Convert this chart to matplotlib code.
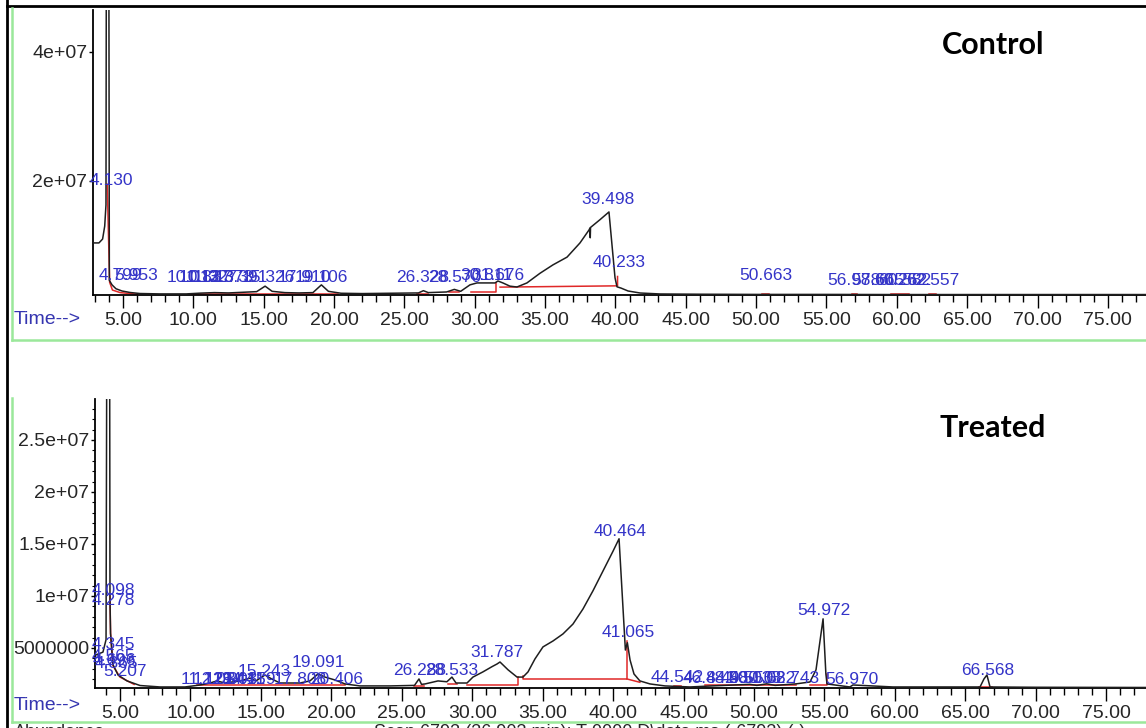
import matplotlib.pyplot as plt
import matplotlib.ticker as mticker
from matplotlib.lines import Line2D

# ---- data ----
# control chromatogram (time in min, abundance)
ctrl_time = [2.87, 3.29, 3.55, 3.70, 3.79, 3.84, 3.97, 4.03, 4.22, 4.50, 4.93, 5.50, 6.20, 7.60,
             9.50, 10.50, 11.50, 12.50, 13.50, 14.50, 15.10, 15.60, 16.50, 17.50, 18.50, 19.10,
             19.60, 20.50, 22.00, 24.00, 26.00, 26.35, 26.70, 28.00, 28.55, 29.00, 29.66, 30.16,
             31.44, 31.65, 32.00, 32.50, 33.00, 33.71, 34.64, 35.56, 36.56, 37.48, 38.12, 38.19,
             38.21, 38.23, 38.90, 39.54, 39.97, 40.11, 40.40, 40.90, 41.75, 43.17, 46.00, 50.00,
             55.00, 60.00, 65.00, 70.00, 77.70]
ctrl_abund = [1.04e7, 1.04e7, 1.10e7, 1.30e7, 1.63e7, 9.0e7, 9.0e7, 4.6e6, 3.9e6, 3.3e6, 2.95e6,
              2.72e6, 2.56e6, 2.50e6, 2.50e6, 2.62e6, 2.70e6, 2.65e6, 2.75e6, 2.85e6, 3.7e6, 2.9e6,
              2.7e6, 2.65e6, 2.7e6, 3.9e6, 2.9e6, 2.6e6, 2.55e6, 2.6e6, 2.65e6, 3.0e6, 2.7e6, 2.8e6,
              3.2e6, 2.9e6, 3.9e6, 4.2e6, 4.2e6, 4.5e6, 4.2e6, 3.7e6, 3.57e6, 4.2e6, 5.7e6, 7.0e6,
              8.2e6, 1.04e7, 1.24e7, 1.27e7, 1.12e7, 1.28e7, 1.40e7, 1.52e7, 5.0e6, 3.6e6, 3.4e6,
              2.95e6, 2.64e6, 2.49e6, 2.45e6, 2.42e6, 2.42e6, 2.40e6, 2.40e6, 2.40e6, 2.40e6]

# treated chromatogram
trt_time = [3.23, 3.79, 4.01, 4.11, 4.24, 4.29, 4.33, 4.50, 4.86, 5.50, 6.42, 7.84, 9.61, 10.68,
            11.39, 11.88, 12.45, 13.52, 14.23, 14.65, 15.29, 15.79, 16.36, 17.77, 18.48, 19.05,
            19.55, 20.26, 20.97, 22.03, 24.16, 25.90, 26.22, 26.40, 26.65, 27.57, 28.20, 28.56,
            28.85, 29.63, 30.05, 30.76, 31.40, 31.76, 31.97, 32.54, 33.18, 33.60, 33.96, 34.45,
            35.02, 35.73, 36.44, 37.15, 37.86, 38.57, 39.28, 39.99, 40.42, 40.87, 41.01, 41.20,
            41.48, 41.90, 42.62, 43.68, 45.45, 47.00, 49.70, 50.20, 50.90, 51.50, 53.00, 53.97,
            54.40, 54.90, 55.10, 55.18, 56.80, 57.02, 59.86, 62.70, 66.04, 66.32, 66.53, 66.75,
            70.00, 77.80]
trt_abund = [4.3e6, 4.6e6, 5.8e6, 6.0e7, 6.0e7, 9.6e6, 6.4e6, 3.4e6, 2.4e6, 1.83e6, 1.39e6,
             1.25e6, 1.25e6, 1.44e6, 1.63e6, 1.83e6, 1.63e6, 1.83e6, 2.1e6, 1.83e6, 2.4e6, 2.0e6,
             1.63e6, 1.63e6, 1.83e6, 2.5e6, 2.2e6, 1.92e6, 1.54e6, 1.35e6, 1.35e6, 1.40e6, 2.02e6,
             1.50e6, 1.54e6, 1.83e6, 1.75e6, 2.2e6, 1.63e6, 1.63e6, 2.2e6, 2.7e6, 3.2e6, 3.46e6,
             3.65e6, 2.9e6, 2.2e6, 2.2e6, 2.7e6, 3.94e6, 5.1e6, 5.67e6, 6.35e6, 7.3e6, 8.75e6,
             1.05e7, 1.24e7, 1.43e7, 1.55e7, 4.8e6, 5.5e6, 3.85e6, 2.5e6, 1.83e6, 1.54e6, 1.35e6,
             1.25e6, 1.35e6, 1.5e6, 1.4e6, 1.55e6, 1.4e6, 1.55e6, 1.73e6, 2.9e6, 7.8e6, 2.5e6,
             1.54e6, 1.25e6, 1.44e6, 1.25e6, 1.25e6, 1.25e6, 2.02e6, 2.4e6, 1.25e6, 1.22e6, 1.20e6]

# red integration baselines (time list, abundance list)
ctrl_red_t = [[3.88, 4.05, 4.25, 4.8, 6.0], [9.8, 20.3], [25.9, 26.7], [28.2, 28.9],
              [29.7, 31.5, 31.5], [31.8, 40.15, 40.15], [50.4, 50.9], [56.8, 57.2],
              [59.6, 60.9], [62.3, 62.8]]
ctrl_red_v = [[1.95e7, 4.3e6, 3.1e6, 2.7e6, 2.45e6], [2.45e6, 2.45e6], [2.5e6, 2.5e6],
              [2.75e6, 2.75e6], [2.8e6, 2.8e6, 4.2e6], [3.55e6, 3.75e6, 5.2e6],
              [2.45e6, 2.45e6], [2.45e6, 2.45e6], [2.45e6, 2.45e6], [2.45e6, 2.45e6]]
trt_red_t = [[4.29, 4.33, 4.5, 5.0, 6.0], [10.5, 21.0], [25.9, 26.6], [28.3, 28.9],
             [29.63, 33.25, 33.25], [33.6, 33.6, 40.98, 40.98], [40.98, 41.9], [44.3, 44.8],
             [46.5, 53.0], [54.0, 55.18, 55.18], [66.0, 66.9]]
trt_red_v = [[1.0e7, 6.4e6, 3.3e6, 2.2e6, 1.5e6], [1.45e6, 1.45e6], [1.3e6, 1.3e6],
             [1.5e6, 1.5e6], [1.47e6, 1.47e6, 2.2e6], [2.3e6, 2.02e6, 2.02e6, 5.67e6],
             [2.02e6, 1.7e6], [1.3e6, 1.3e6], [1.4e6, 1.4e6], [1.44e6, 1.44e6, 2.5e6],
             [1.2e6, 1.2e6]]

# peak labels (text, label centre time, label height)
ctrl_labels = ['4.130', '4.799', '5.953', '10.013', '10.837', '11.327', '12.373', '13.391',
               '15.326', '17.910', '19.106', '26.328', '28.570', '30.811', '31.676', '39.498',
               '40.233', '50.663', '56.978', '58.665', '60.252', '60.582', '62.557']
ctrl_label_t = [4.15, 4.799, 5.953, 10.013, 10.837, 11.327, 12.373, 13.391, 15.326, 17.910,
                19.106, 26.328, 28.570, 30.811, 31.676, 39.498, 40.233, 50.663, 56.978, 58.665,
                60.252, 60.582, 62.557]
ctrl_label_v = [2.0e7, 5.3e6, 5.3e6, 5.1e6, 5.1e6, 5.1e6, 5.1e6, 5.1e6, 5.1e6, 5.1e6, 5.1e6,
                5.1e6, 5.1e6, 5.3e6, 5.3e6, 1.71e7, 7.3e6, 5.3e6, 4.65e6, 4.65e6, 4.65e6,
                4.65e6, 4.65e6]

trt_labels = ['4.098', '4.278', '4.345', '4.565', '4.696', '4.865', '5.207', '11.129', '12.034',
              '12.903', '13.441', '14.159', '15.243', '17.808', '19.091', '20.406', '26.288',
              '28.533', '31.787', '40.464', '41.065', '44.542', '46.841', '48.480', '49.550',
              '50.033', '51.082', '52.743', '54.972', '56.970', '66.568']
trt_label_t = [4.55, 4.55, 4.55, 4.5, 4.6, 4.75, 5.35, 11.129, 12.034, 12.903, 13.441, 14.159,
               15.243, 17.808, 19.091, 20.406, 26.288, 28.533, 31.787, 40.464, 41.065, 44.542,
               46.841, 48.480, 49.550, 50.033, 51.082, 52.743, 54.972, 56.970, 66.568]
trt_label_v = [1.05e7, 9.6e6, 5.3e6, 4.2e6, 3.75e6, 3.55e6, 2.7e6, 1.92e6, 1.92e6, 1.92e6,
               1.92e6, 1.92e6, 2.7e6, 1.92e6, 3.56e6, 1.92e6, 2.88e6, 2.88e6, 4.6e6, 1.62e7,
               6.5e6, 2.2e6, 2.1e6, 2.1e6, 2.1e6, 2.1e6, 2.1e6, 2.1e6, 8.65e6, 2.0e6, 2.88e6]

ctrl_yticks = [2e7, 4e7]
ctrl_yticklabels = ['2e+07', '4e+07']
trt_yticks = [5e6, 1e7, 1.5e7, 2e7, 2.5e7]
trt_yticklabels = ['5000000', '1e+07', '1.5e+07', '2e+07', '2.5e+07']

# ---- drawing ----
W, H = 1146, 728
narrow = ['Liberation Sans Narrow', 'Liberation Sans', 'DejaVu Sans']
blue = '#3434c8'
green = '#9be89b'


def box(l, t, r, b):
    return [l / W, 1 - b / H, (r - l) / W, (b - t) / H]


fig = plt.figure(figsize=(W / 100, H / 100), dpi=100)

# frame lines of the screenshot
fig.add_artist(Line2D([7 / W, 7 / W], [0, 1], color='black', lw=2))
fig.add_artist(Line2D([7 / W, 1], [1 - 6 / H, 1 - 6 / H], color='black', lw=2))
fig.add_artist(Line2D([12 / W, 12 / W], [1 - 8 / H, 1 - 340 / H], color=green, lw=1.8))
fig.add_artist(Line2D([12 / W, 1], [1 - 340 / H, 1 - 340 / H], color=green, lw=1.8))
fig.add_artist(Line2D([12 / W, 12 / W], [1 - 398 / H, 1 - 722 / H], color=green, lw=1.8))
fig.add_artist(Line2D([12 / W, 1], [1 - 722 / H, 1 - 722 / H], color=green, lw=1.8))

panels = [
    (box(93, 10, 1146, 295), (2.868, 77.71), (2.33e6, 4.65e7), ctrl_time, ctrl_abund,
     ctrl_red_t, ctrl_red_v, ctrl_labels, ctrl_label_t, ctrl_label_v,
     ctrl_yticks, ctrl_yticklabels, 'Control', 45, 320),
    (box(95, 399, 1146, 688), (3.226, 77.82), (1.15e6, 2.894e7), trt_time, trt_abund,
     trt_red_t, trt_red_v, trt_labels, trt_label_t, trt_label_v,
     trt_yticks, trt_yticklabels, 'Treated', 428, 706),
]

for (pos, xl, yl, tt, vv, rt, rv, labs, lt, lv, yt, ytl, name, name_y, time_y) in panels:
    ax = fig.add_axes(pos)
    ax.set_xlim(*xl)
    ax.set_ylim(*yl)
    ax.plot(tt, vv, color='#1e1e1e', lw=1.1, zorder=3)
    for a, b in zip(rt, rv):
        ax.plot(a, b, color='#e02828', lw=1.1, zorder=2)
    for s, x, y in zip(labs, lt, lv):
        ax.text(x, y, s, ha='center', va='center', color=blue, fontsize=12.5,
                family=['Liberation Sans', 'DejaVu Sans'], zorder=4)
    for side in ['top', 'right']:
        ax.spines[side].set_visible(False)
    for side in ['left', 'bottom']:
        ax.spines[side].set_linewidth(1.3)
        ax.spines[side].set_color('black')
    ax.xaxis.set_major_locator(mticker.MultipleLocator(5))
    ax.xaxis.set_minor_locator(mticker.MultipleLocator(1))
    ax.xaxis.set_major_formatter(mticker.FormatStrFormatter('%.2f'))
    ax.set_yticks(yt)
    ax.set_yticklabels(ytl)
    ax.tick_params(axis='x', which='major', direction='out', length=9, width=1, pad=3,
                   labelsize=14, labelcolor='#262626')
    ax.tick_params(axis='x', which='minor', direction='out', length=5, width=1)
    ax.tick_params(axis='y', which='major', direction='out', length=3, width=1, pad=1,
                   labelsize=14, labelcolor='#262626')
    for lab in ax.get_xticklabels() + ax.get_yticklabels():
        lab.set_family(narrow)
    ax.patch.set_alpha(0)
    fig.text(993 / W, 1 - name_y / H, name, ha='center', va='center', fontsize=22,
             fontweight='bold', family=['Lato', 'DejaVu Sans'])
    fig.text(14 / W, 1 - time_y / H, 'Time-->', ha='left', va='center', fontsize=14,
             color='#3535b0', family=narrow)

fig.axes[1].yaxis.set_minor_locator(mticker.MultipleLocator(1e6))
fig.axes[1].tick_params(axis='y', which='minor', direction='out', length=2, width=0.8)

# status line of the data system, cut off by the bottom edge of the screenshot
fig.text(14 / W, 1 - 724 / H, 'Abundance', ha='left', va='top', fontsize=13,
         color='#262626', family=narrow)
fig.text(590 / W, 1 - 724 / H, 'Scan 6793 (36.903 min): T-0000.D\\data.ms (-6793) (-)',
         ha='center', va='top', fontsize=13, color='#262626', family=narrow)

fig.savefig('out.png', dpi=100)
